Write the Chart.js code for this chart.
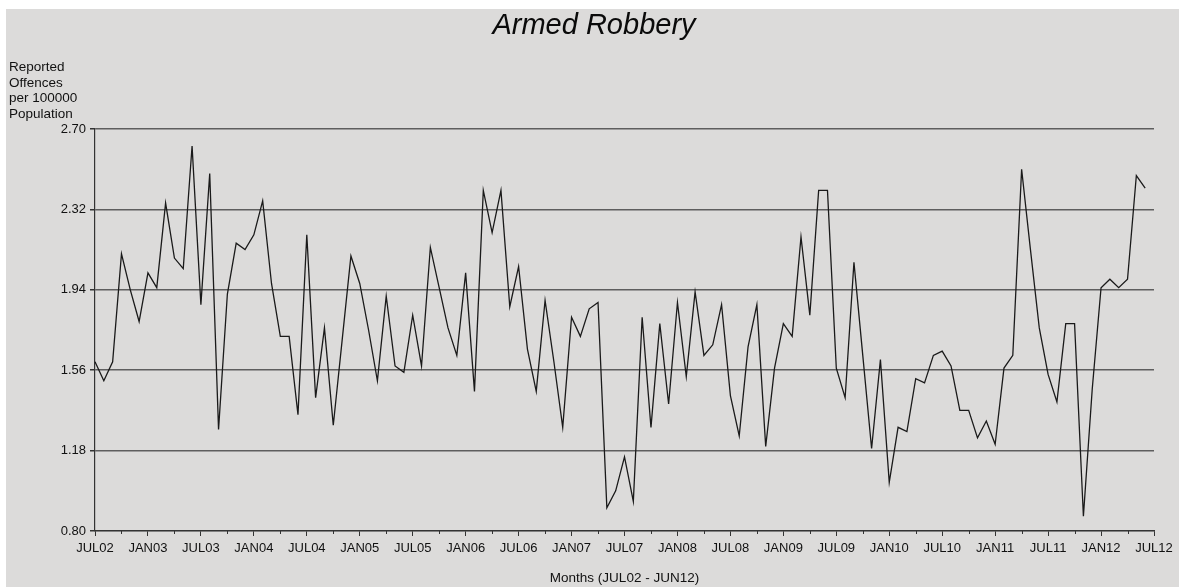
<!DOCTYPE html>
<html>
<head>
<meta charset="utf-8">
<title>Armed Robbery</title>
<script src="https://cdn.jsdelivr.net/npm/chart.js@4.4.1/dist/chart.umd.min.js"></script>
<style>
    html, body { margin: 0; padding: 0; background: #fff; }
    #wrap { position: relative; width: 1181px; height: 587px; }
</style>
</head>
<body>
<div id="wrap"><canvas id="robberyChart" width="1181" height="587"></canvas></div>
<script>
// month labels JUL02 .. JUL12 (121 positions, data ends at JUN12)
var monthNames = ['JUL', 'AUG', 'SEP', 'OCT', 'NOV', 'DEC', 'JAN', 'FEB', 'MAR', 'APR', 'MAY', 'JUN'];
var months = [];
for (var i = 0; i <= 120; i++) {
    var yr = 2 + Math.floor((i + 6) / 12);
    months.push(monthNames[i % 12] + (yr < 10 ? '0' + yr : '' + yr));
}

var yTicks = [0.80, 1.18, 1.56, 1.94, 2.32, 2.70];

var offences = [
    1.60, 1.51, 1.60, 2.11, 1.94, 1.79, 2.02, 1.95, 2.35, 2.09, 2.04, 2.62,
    1.87, 2.49, 1.28, 1.92, 2.16, 2.13, 2.20, 2.36, 1.97, 1.72, 1.72, 1.35,
    2.20, 1.43, 1.76, 1.30, 1.70, 2.10, 1.97, 1.75, 1.51, 1.91, 1.58, 1.55,
    1.82, 1.58, 2.14, 1.95, 1.76, 1.63, 2.02, 1.46, 2.41, 2.21, 2.41, 1.86,
    2.05, 1.66, 1.46, 1.89, 1.60, 1.29, 1.81, 1.72, 1.85, 1.88, 0.91, 0.99,
    1.15, 0.94, 1.81, 1.29, 1.78, 1.40, 1.88, 1.53, 1.93, 1.63, 1.68, 1.87,
    1.44, 1.25, 1.67, 1.87, 1.20, 1.57, 1.78, 1.72, 2.19, 1.82, 2.41, 2.41,
    1.57, 1.43, 2.07, 1.63, 1.19, 1.61, 1.03, 1.29, 1.27, 1.52, 1.50, 1.63,
    1.65, 1.58, 1.37, 1.37, 1.24, 1.32, 1.21, 1.57, 1.63, 2.51, 2.13, 1.76,
    1.54, 1.41, 1.78, 1.78, 0.87, 1.47, 1.95, 1.99, 1.95, 1.99, 2.48, 2.42
];

var fontFamily = '"Liberation Sans", Arial, sans-serif';

// gray panel, titles and short minor ticks
var decor = {
    id: 'decor',
    beforeDraw: function(chart) {
        var c = chart.ctx;
        c.save();
        c.fillStyle = '#ffffff';
        c.fillRect(0, 0, chart.width, chart.height);
        c.fillStyle = '#dcdbda';
        c.fillRect(6, 9, 1173, 578);
        c.restore();
    },
    afterDraw: function(chart) {
        var c = chart.ctx;
        var area = chart.chartArea;
        var x = chart.scales.x;
        c.save();
        c.fillStyle = '#0a0a0a';
        c.font = 'italic 29px ' + fontFamily;
        c.textAlign = 'center';
        c.textBaseline = 'alphabetic';
        c.fillText('Armed Robbery', 594, 34);

        c.fillStyle = '#111';
        c.font = '13.5px ' + fontFamily;
        c.textAlign = 'left';
        ['Reported', 'Offences', 'per 100000', 'Population'].forEach(function(t, k) {
            c.fillText(t, 9, 71 + k * 15.5);
        });

        c.textAlign = 'center';
        c.fillText('Months (JUL02 - JUN12)', (area.left + area.right) / 2, 582);

        c.strokeStyle = '#333';
        c.lineWidth = 1;
        for (var i = 3; i < months.length; i += 6) {
            var px = Math.round(x.getPixelForTick(i)) + 0.5;
            c.beginPath();
            c.moveTo(px, area.bottom);
            c.lineTo(px, area.bottom + 3);
            c.stroke();
        }
        c.restore();
    }
};

var ctx = document.getElementById('robberyChart').getContext('2d');

new Chart(ctx, {
    type: 'line',
    data: {
        labels: months,
        datasets: [{
            label: 'Armed Robbery',
            data: offences,
            borderColor: '#1a1a1a',
            borderWidth: 1.3,
            pointRadius: 0,
            tension: 0,
            fill: false
        }]
    },
    options: {
        responsive: false,
        animation: false,
        events: [],
        layout: {
            padding: { top: 129, right: 27, bottom: 0, left: 0 }
        },
        plugins: {
            legend: { display: false },
            tooltip: { enabled: false }
        },
        scales: {
            x: {
                type: 'category',
                offset: false,
                afterFit: function(scale) { scale.height = 56; },
                grid: {
                    drawOnChartArea: false,
                    tickLength: 5,
                    tickColor: function(c) { return c.index % 6 === 0 ? '#333' : 'rgba(0,0,0,0)'; }
                },
                border: { color: '#333', width: 1.2 },
                ticks: {
                    autoSkip: false,
                    maxRotation: 0,
                    padding: 5,
                    color: '#111',
                    font: { family: fontFamily, size: 13 },
                    callback: function(val, index) {
                        return index % 6 === 0 ? months[index] : '';
                    }
                }
            },
            y: {
                min: 0.80,
                max: 2.70,
                afterFit: function(scale) { scale.width = 95; },
                afterBuildTicks: function(scale) {
                    scale.ticks = yTicks.map(function(v) { return { value: v }; });
                },
                grid: {
                    color: '#5e5e5e',
                    lineWidth: 1.5,
                    tickLength: 5,
                    tickColor: '#333'
                },
                border: { color: '#333', width: 1.2 },
                ticks: {
                    padding: 4,
                    color: '#111',
                    font: { family: fontFamily, size: 13 },
                    callback: function(v) { return Number(v).toFixed(2); }
                }
            }
        }
    },
    plugins: [decor]
});
</script>
</body>
</html>
